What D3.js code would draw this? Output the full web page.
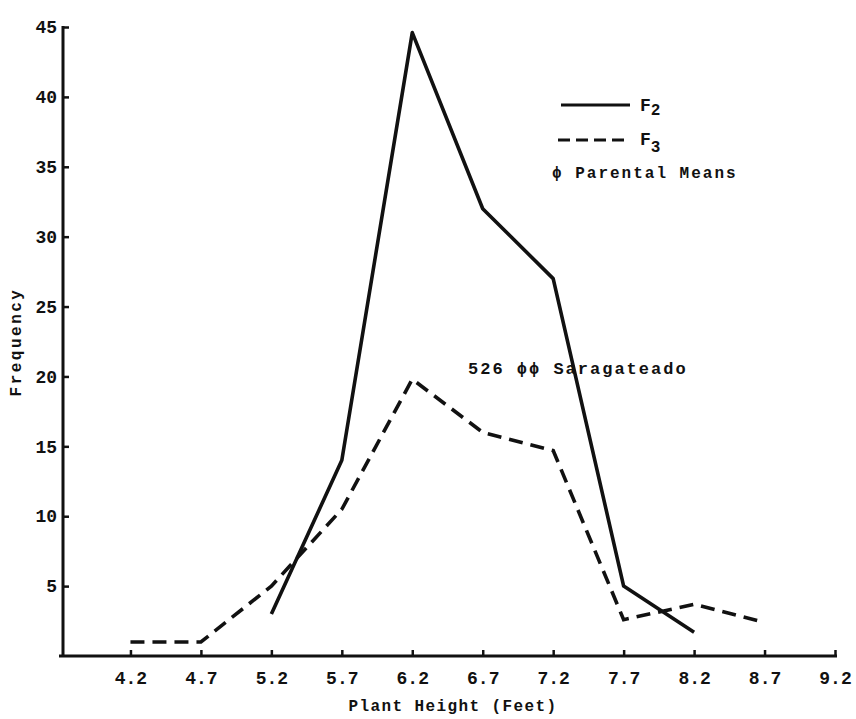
<!DOCTYPE html>
<html>
<head>
<meta charset="utf-8">
<script src="https://cdn.jsdelivr.net/npm/d3@7/dist/d3.min.js"></script>
<style>
  html, body { margin: 0; padding: 0; background: #fff; }
  svg text { font-family: "Liberation Mono", "DejaVu Sans Mono", monospace; font-weight: bold; fill: #111; }
</style>
</head>
<body>
<svg id="chart" width="856" height="719"></svg>
<script>
// ---- Data ----
const xTicks = [4.2, 4.7, 5.2, 5.7, 6.2, 6.7, 7.2, 7.7, 8.2, 8.7, 9.2];
const yTicks = [5, 10, 15, 20, 25, 30, 35, 40, 45];
const f2Heights = [5.2, 5.7, 6.2, 6.7, 7.2, 7.7, 8.2];
const f2Freq    = [3, 14, 44.6, 32, 27, 5, 1.7];
const f3Heights = [4.2, 4.7, 5.2, 5.7, 6.2, 6.7, 7.2, 7.7, 8.2, 8.7];
const f3Freq    = [1, 1, 5, 10.5, 19.8, 16, 14.7, 2.6, 3.7, 2.4];

const svg = d3.select("#chart");
const x = d3.scaleLinear().domain([3.7, 9.2]).range([60, 835]);
const y = d3.scaleLinear().domain([0, 45]).range([656, 27]);
const axisX = 63;

// x axis
const gx = svg.append("g").attr("transform", `translate(0,${y(0)})`)
  .call(d3.axisBottom(x).tickValues(xTicks).tickSize(-6).tickPadding(15)
    .tickFormat(d3.format(".1f")));
gx.select(".domain").remove();
gx.append("line").attr("x1", axisX - 4).attr("x2", x(9.2) + 2).attr("y1", 0).attr("y2", 0)
  .attr("stroke", "#111").attr("stroke-width", 3);
gx.selectAll(".tick line").attr("stroke", "#111").attr("stroke-width", 2.5);
gx.selectAll(".tick text").attr("font-size", 18).attr("fill", "#111");

// y axis
const gy = svg.append("g").attr("transform", `translate(${axisX},0)`)
  .call(d3.axisRight(y).tickValues(yTicks).tickSize(6).tickFormat(d3.format("d")));
gy.select(".domain").remove();
gy.append("line").attr("x1", 0).attr("x2", 0).attr("y1", y(45) - 1).attr("y2", y(0) + 1)
  .attr("stroke", "#111").attr("stroke-width", 3);
gy.selectAll(".tick line").attr("stroke", "#111").attr("stroke-width", 2.5);
gy.selectAll(".tick text").attr("x", -6).attr("text-anchor", "end")
  .attr("font-size", 18).attr("fill", "#111");

// axis titles
svg.append("text").attr("x", 453).attr("y", 711).attr("text-anchor", "middle")
  .attr("font-size", 16).attr("letter-spacing", 1.4).text("Plant Height (Feet)");
svg.append("text").attr("transform", `translate(21,342) rotate(-90)`).attr("text-anchor", "middle")
  .attr("font-size", 16).attr("letter-spacing", 2.5).text("Frequency");

// lines
const line = d3.line().x(d => x(d[0])).y(d => y(d[1]));
svg.append("path").datum(f2Heights.map((h, i) => [h, f2Freq[i]]))
  .attr("d", line).attr("fill", "none").attr("stroke", "#111").attr("stroke-width", 3.6)
  .attr("stroke-linejoin", "round");
svg.append("path").datum(f3Heights.map((h, i) => [h, f3Freq[i]]))
  .attr("d", line).attr("fill", "none").attr("stroke", "#111").attr("stroke-width", 3.6)
  .attr("stroke-dasharray", "14,8");

// legend
const lg = svg.append("g");
lg.append("line").attr("x1", 561).attr("x2", 630).attr("y1", 105).attr("y2", 105)
  .attr("stroke", "#111").attr("stroke-width", 3);
const t2 = lg.append("text").attr("x", 640).attr("y", 111).attr("font-size", 18);
t2.append("tspan").text("F");
t2.append("tspan").attr("dy", 4).attr("font-size", 16).text("2");
lg.append("line").attr("x1", 558).attr("x2", 630).attr("y1", 140).attr("y2", 140)
  .attr("stroke", "#111").attr("stroke-width", 3).attr("stroke-dasharray", "12,6");
const t3 = lg.append("text").attr("x", 640).attr("y", 145).attr("font-size", 18);
t3.append("tspan").text("F");
t3.append("tspan").attr("dy", 7).attr("font-size", 16).text("3");
lg.append("text").attr("x", 552).attr("y", 178).attr("font-size", 16).attr("letter-spacing", 2)
  .text("ϕ Parental Means");

// annotation
svg.append("text").attr("x", 468).attr("y", 374).attr("font-size", 17).attr("letter-spacing", 2)
  .text("526 ϕϕ Saragateado");
</script>
</body>
</html>
